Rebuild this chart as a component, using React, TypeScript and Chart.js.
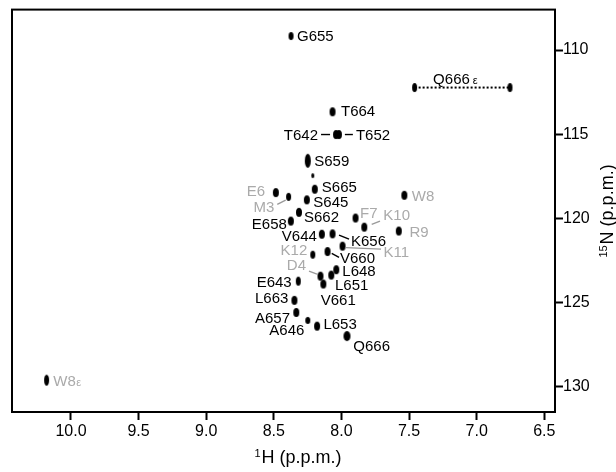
import React, { useEffect, useRef } from 'react';
import { Chart, registerables } from 'chart.js';

Chart.register(...registerables);

// ---------- data ----------
const peakNames = ['G655', 'T664', 'T642', 'T652', 'S659', '', 'S665', 'E6', 'M3', 'S645', 'S662', 'E658', 'F7', 'K10', 'W8', 'R9', 'V644', 'K656', 'K11', 'K12', 'V660', 'L648', 'L651', 'D4', 'V661', 'E643', 'L663', 'A657', 'A646', 'L653', 'Q666', 'W8ε'];
const peakH = [8.373, 8.066, 8.040, 8.019, 8.249, 8.212, 8.197, 8.485, 8.391, 8.256, 8.314, 8.374, 7.896, 7.831, 7.535, 7.576, 8.145, 8.066, 7.992, 8.212, 8.103, 8.038, 8.075, 8.155, 8.134, 8.319, 8.348, 8.334, 8.249, 8.180, 7.959, 10.180];
const peakN = [109.17, 113.67, 115.02, 115.02, 116.58, 117.46, 118.27, 118.47, 118.72, 118.90, 119.64, 120.16, 119.98, 120.52, 118.63, 120.75, 120.94, 120.92, 121.65, 122.16, 121.97, 123.05, 123.37, 123.43, 123.90, 123.73, 124.87, 125.59, 126.06, 126.40, 126.99, 129.61];

// Q666 side-chain epsilon pair
const sideName = 'Q666 ε';
const sideH = [7.459, 6.754];
const sideN = [112.23, 112.23];

const xTicks = [10.0, 9.5, 9.0, 8.5, 8.0, 7.5, 7.0, 6.5];
const yTicks = [110, 115, 120, 125, 130];
const xMin = 6.421;
const xMax = 10.436;
const yMin = 107.6;
const yMax = 131.5;

const xTitleMain = 'H (p.p.m.)';
const xTitleSup = '1';
const yTitleMain = 'N (p.p.m.)';
const yTitleSup = '15';

// ---------- styles / layout ----------
const FONT = "'Liberation Sans', Arial, Helvetica, sans-serif";
const GRAY = '#aaaaaa';
const GRAY_LINE = '#9a9a9a';

const grayNames = ['E6', 'M3', 'F7', 'K10', 'W8', 'R9', 'K11', 'K12', 'D4', 'W8ε'];

const dotSize: Record<string, [number, number]> = {
  G655: [5, 8],
  T664: [6, 9],
  T642: [6, 9],
  T652: [6, 9],
  S659: [6, 14],
  '': [3, 5],
  M3: [5, 8],
  K12: [5, 8],
  A646: [5, 7],
  E643: [5, 9],
  Q666: [7, 10],
  'W8ε': [5, 11],
};

type LL = { dx: number; dy: number; align?: 'left' | 'right'; line?: [number, number, number, number] };
const labelLayout: Record<string, LL> = {
  G655: { dx: 6, dy: 0 },
  T664: { dx: 8.5, dy: -1 },
  T642: { dx: -18, dy: 0, align: 'right', line: [-15, 0, -6, 0] },
  T652: { dx: 17, dy: 0, line: [6, 0, 14, 0] },
  S659: { dx: 6.5, dy: 0 },
  S665: { dx: 7, dy: -3 },
  S645: { dx: 6.5, dy: 2 },
  S662: { dx: 5, dy: 4.5 },
  E658: { dx: -4, dy: 2.3, align: 'right' },
  V644: { dx: -5, dy: 1.5, align: 'right' },
  K656: { dx: 18.5, dy: 7, line: [6.5, 1.2, 16.5, 5.2] },
  K11: { dx: 41, dy: 5.7, line: [3.5, 1.5, 38.5, 3] },
  K12: { dx: -5.5, dy: -4.7, align: 'right' },
  V660: { dx: 12.5, dy: 5.8, line: [4.2, 1.8, 11.5, 5.8] },
  L648: { dx: 6, dy: 1.4 },
  L651: { dx: 3.7, dy: 10 },
  V661: { dx: -2.6, dy: 15.3 },
  D4: { dx: -14.5, dy: -11, align: 'right', line: [-11.5, -5, -3.5, -2] },
  E643: { dx: -6.6, dy: 0, align: 'right' },
  L663: { dx: -6, dy: -2.6, align: 'right' },
  A657: { dx: -6.3, dy: 5, align: 'right' },
  A646: { dx: -3.4, dy: 9, align: 'right' },
  L653: { dx: 6.3, dy: -2.7 },
  Q666: { dx: 6.3, dy: 10 },
  E6: { dx: -10.8, dy: -1.8, align: 'right' },
  M3: { dx: -14.3, dy: 10, align: 'right', line: [-11.3, 7.6, -2.9, 3.3] },
  F7: { dx: 4.5, dy: -5.7 },
  K10: { dx: 19, dy: -13, line: [7.4, -2.7, 15.7, -6] },
  W8: { dx: 7.4, dy: 0.7 },
  R9: { dx: 10.6, dy: 0.7 },
  'W8ε': { dx: 6.6, dy: 0 },
  'Q666 ε': { dx: 18.5, dy: -9 },
};

function drawLabel(ctx: CanvasRenderingContext2D, text: string, x: number, yc: number, align: string, color: string) {
  const size = 15;
  let main = text;
  let suffix = '';
  let gap = 0;
  if (text.endsWith(' ε')) { main = text.slice(0, -2); suffix = 'ε'; gap = 3; }
  else if (text.endsWith('ε')) { main = text.slice(0, -1); suffix = 'ε'; gap = 0.5; }
  ctx.font = `${size}px ${FONT}`;
  const wMain = ctx.measureText(main).width;
  ctx.font = `11px ${FONT}`;
  const wSuf = suffix ? ctx.measureText(suffix).width + gap : 0;
  const total = wMain + wSuf;
  const x0 = align === 'right' ? x - total : x;
  const base = yc + (size * 0.716) / 2;
  ctx.fillStyle = color;
  ctx.textAlign = 'left';
  ctx.textBaseline = 'alphabetic';
  ctx.font = `${size}px ${FONT}`;
  ctx.fillText(main, x0, base);
  if (suffix) {
    ctx.font = `11px ${FONT}`;
    ctx.fillText(suffix, x0 + wMain + gap, base);
  }
}

const annotatePlugin = {
  id: 'annotate',
  beforeDatasetsDraw(chart: any) {
    const { ctx, chartArea } = chart;
    ctx.save();
    ctx.strokeStyle = '#000';
    ctx.lineWidth = 2;
    ctx.strokeRect(chartArea.left, chartArea.top, chartArea.right - chartArea.left, chartArea.bottom - chartArea.top);
    ctx.restore();
  },
  afterDatasetsDraw(chart: any) {
    const { ctx } = chart;
    const xs = chart.scales.x;
    const ys = chart.scales.y;
    ctx.save();
    const items: { name: string; px: number; py: number }[] = [];
    peakNames.forEach((n, i) => {
      if (!n) return;
      items.push({ name: n, px: xs.getPixelForValue(peakH[i]), py: ys.getPixelForValue(peakN[i]) });
    });
    items.push({ name: sideName, px: xs.getPixelForValue(sideH[0]), py: ys.getPixelForValue(sideN[0]) });
    for (const it of items) {
      const L = labelLayout[it.name];
      if (!L) continue;
      const gray = grayNames.includes(it.name);
      if (L.line) {
        ctx.beginPath();
        ctx.strokeStyle = gray ? GRAY_LINE : '#000';
        ctx.lineWidth = 1.4;
        ctx.moveTo(it.px + L.line[0], it.py + L.line[1]);
        ctx.lineTo(it.px + L.line[2], it.py + L.line[3]);
        ctx.stroke();
      }
      drawLabel(ctx, it.name, it.px + L.dx, it.py + L.dy, L.align || 'left', gray ? GRAY : '#000');
    }
    // axis titles
    ctx.fillStyle = '#000';
    ctx.textBaseline = 'alphabetic';
    ctx.textAlign = 'left';
    const tSize = 18;
    const sSize = 11;
    ctx.font = `${tSize}px ${FONT}`;
    const wx = ctx.measureText(xTitleMain).width;
    ctx.font = `${sSize}px ${FONT}`;
    const wxs = ctx.measureText(xTitleSup).width;
    const xCenter = 298;
    const xBase = 463;
    const x0 = xCenter - (wx + wxs + 1) / 2;
    ctx.fillText(xTitleSup, x0, xBase - 6);
    ctx.font = `${tSize}px ${FONT}`;
    ctx.fillText(xTitleMain, x0 + wxs + 1, xBase);

    // y title rotated (reads bottom to top)
    ctx.save();
    ctx.translate(613, 211);
    ctx.rotate(-Math.PI / 2);
    ctx.font = `${tSize}px ${FONT}`;
    const wy = ctx.measureText(yTitleMain).width;
    ctx.font = `${sSize}px ${FONT}`;
    const wys = ctx.measureText(yTitleSup).width;
    const y0 = -(wy + wys + 1) / 2;
    ctx.fillText(yTitleSup, y0, -6);
    ctx.font = `${tSize}px ${FONT}`;
    ctx.fillText(yTitleMain, y0 + wys + 1, 0);
    ctx.restore();
    ctx.restore();
  },
};

export default function App() {
  const ref = useRef<HTMLCanvasElement>(null);
  useEffect(() => {
    const canvas = ref.current;
    if (!canvas) return;
    const cache: Record<string, HTMLCanvasElement> = {};
    const ellipse = (w: number, h: number) => {
      const key = `${w}x${h}`;
      if (cache[key]) return cache[key];
      const c = document.createElement('canvas');
      c.width = w + 2;
      c.height = h + 2;
      const g = c.getContext('2d')!;
      g.fillStyle = '#000';
      g.beginPath();
      g.ellipse((w + 2) / 2, (h + 2) / 2, w / 2, h / 2, 0, 0, Math.PI * 2);
      g.fill();
      cache[key] = c;
      return c;
    };
    const sizeOf = (n: string): [number, number] => dotSize[n] || [6, 9];

    const chart = new Chart(canvas, {
      type: 'scatter',
      data: {
        datasets: [
          {
            data: sideH.map((h, i) => ({ x: h, y: sideN[i] })),
            showLine: true,
            borderColor: '#000',
            borderWidth: 2,
            borderDash: [2, 2],
            pointStyle: ellipse(5, 9) as any,
            pointRadius: 3,
          },
          {
            data: peakH.map((h, i) => ({ x: h, y: peakN[i] })),
            showLine: false,
            pointStyle: ((c: any) => ellipse(...sizeOf(peakNames[c.dataIndex]))) as any,
            pointRadius: 3,
          },
        ],
      },
      options: {
        responsive: false,
        animation: false,
        events: [],
        layout: { padding: { left: 12, top: 9, right: 0, bottom: 0 } },
        plugins: { legend: { display: false }, tooltip: { enabled: false } },
        scales: {
          x: {
            type: 'linear',
            position: 'bottom',
            reverse: true,
            min: xMin,
            max: xMax,
            afterBuildTicks: (s: any) => { s.ticks = xTicks.map((v) => ({ value: v })); },
            afterFit: (s: any) => { s.height = 60; },
            grid: { drawOnChartArea: false, drawTicks: true, tickLength: 8, tickWidth: 2, tickColor: '#000' },
            border: { display: false },
            ticks: {
              color: '#000',
              font: { family: FONT, size: 16, lineHeight: 1.2 },
              padding: 2,
              maxRotation: 0,
              autoSkip: false,
              callback: (v: any) => Number(v).toFixed(1),
            },
          },
          y: {
            type: 'linear',
            position: 'right',
            reverse: true,
            min: yMin,
            max: yMax,
            afterBuildTicks: (s: any) => { s.ticks = yTicks.map((v) => ({ value: v })); },
            afterFit: (s: any) => { s.width = 61; },
            grid: { drawOnChartArea: false, drawTicks: true, tickLength: 8, tickWidth: 2, tickColor: '#000' },
            border: { display: false },
            ticks: {
              color: '#000',
              font: { family: FONT, size: 16, lineHeight: 1.2 },
              padding: 0,
              autoSkip: false,
              callback: (v: any) => String(v),
            },
          },
        },
      } as any,
      plugins: [annotatePlugin],
    });
    return () => chart.destroy();
  }, []);
  return (
    <div style={{ position: 'fixed', left: 0, top: 0, width: 616, height: 472, background: '#fff' }}>
      <canvas ref={ref} width={616} height={472} style={{ display: 'block' }} />
    </div>
  );
}
